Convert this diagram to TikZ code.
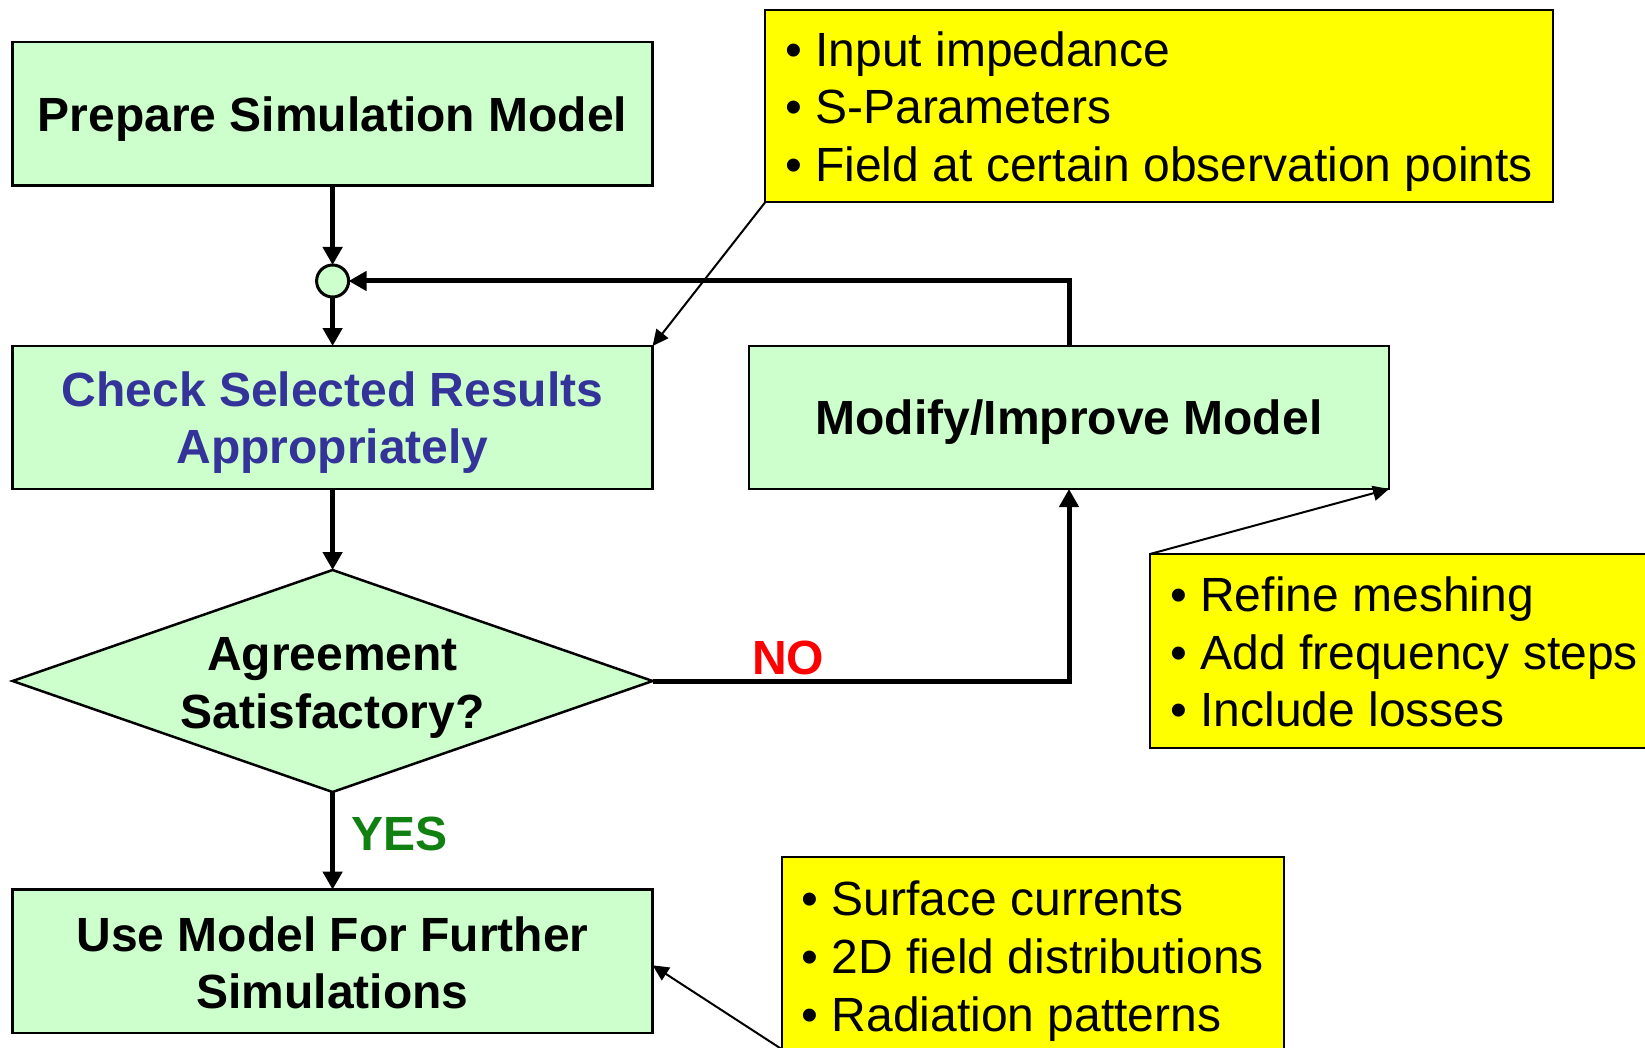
\documentclass[tikz,border=0pt]{standalone}
\usepackage{fontspec}
\setmainfont{Liberation Sans}
\usetikzlibrary{arrows.meta,shapes.geometric}
\definecolor{boxgreen}{HTML}{CCFFCC}
\definecolor{boxyellow}{HTML}{FFFF00}
\definecolor{textblue}{HTML}{333399}
\definecolor{textred}{HTML}{FF0000}
\definecolor{textgreen}{HTML}{108010}
\tikzset{
  gbox/.style={draw=black, line width=2.5pt, fill=boxgreen, rectangle, minimum width=640pt, outer sep=0pt, inner sep=0pt},
  ybox/.style={draw=black, line width=2pt, fill=boxyellow, rectangle, outer sep=0pt, inner sep=0pt},
  ytext/.style={anchor=west, align=left, inner sep=0pt, font=\fontsize{48}{57.7}\selectfont},
  mainarrow/.style={line width=5pt, -{Triangle[length=18pt,width=19pt]}},
  callout/.style={line width=2pt, -{Triangle[length=16pt,width=15pt]}},
  lbl/.style={inner sep=0pt, align=center, font=\fontsize{48}{57.7}\selectfont\bfseries}
}
\begin{document}
\begin{tikzpicture}[x=1pt,y=-1pt]
\useasboundingbox (0,0) rectangle (1645,1048);
\clip (0,0) rectangle (1645,1048);
% green boxes
\node[gbox, minimum height=143.7pt] (prep) at (332.6,113.8) {};
\node[lbl] (preptext) at ([yshift=-5pt]prep.center) {Prepare Simulation Model};
\node[draw=black, line width=3pt, fill=boxgreen, circle, minimum size=32pt, inner sep=0pt, outer sep=0pt] (circ) at (332.6,281) {};
\node[gbox, minimum height=143pt] (check) at (332.6,417.5) {};
\node[lbl, text=textblue] (checktext) at ([yshift=-5pt]check.center) {Check Selected Results\\Appropriately};
\node[draw=black, line width=2.5pt, fill=boxgreen, diamond, minimum width=640pt, minimum height=222pt, inner sep=0pt, outer sep=0pt] (dia) at (332.6,681) {};
\node[lbl] (diatext) at (332.6,688) {Agreement\\Satisfactory?};
\node[gbox, minimum height=143.4pt] (use) at (332.6,961.3) {};
\node[lbl] (usetext) at ([yshift=-1.5pt]use.center) {Use Model For Further\\Simulations};
\node[gbox, minimum height=143pt] (mod) at (1069,417.5) {};
\node[lbl] (modtext) at ([yshift=-5pt]mod.center) {Modify/Improve Model};
% yellow boxes
\node[ybox, minimum width=788pt, minimum height=192pt] (ytop) at (1159,106.5) {};
\node[ytext] (ytoptext) at ([xshift=20pt,yshift=-5pt]ytop.west) {• Input impedance\\• S-Parameters\\• Field at certain observation points};
\node[ybox, minimum width=510pt, minimum height=194pt] (ymid) at (1405,651) {};
\node[ytext] (ymidtext) at ([xshift=20pt,yshift=-1pt]ymid.west) {• Refine meshing\\• Add frequency steps\\• Include losses};
\node[ybox, minimum width=502.5pt, minimum height=192pt] (ybot) at (1032.75,953) {};
\node[ytext] (ybottext) at ([xshift=20pt,yshift=-8pt]ybot.west) {• Surface currents\\• 2D field distributions\\• Radiation patterns};
% labels
\node[lbl, text=textred] (no) at (788,658) {NO};
\node[lbl, text=textgreen] (yes) at (399.7,834) {YES};
% connectors
\draw[mainarrow] (prep.south) -- (circ.north);
\draw[mainarrow] (circ.south) -- (check.north);
\draw[mainarrow] (check.south) -- (dia.north);
\draw[mainarrow] (dia.south) -- (use.north);
\draw[mainarrow] (dia.east) -| (mod.south);
\draw[mainarrow] (mod.north) |- (circ.east);
\draw[callout] (ytop.south west) -- (check.north east);
\draw[callout] (ymid.north west) -- (mod.south east);
\draw[callout] (ybot.south west) -- ([yshift=-4pt]use.east);
\end{tikzpicture}
\end{document}
